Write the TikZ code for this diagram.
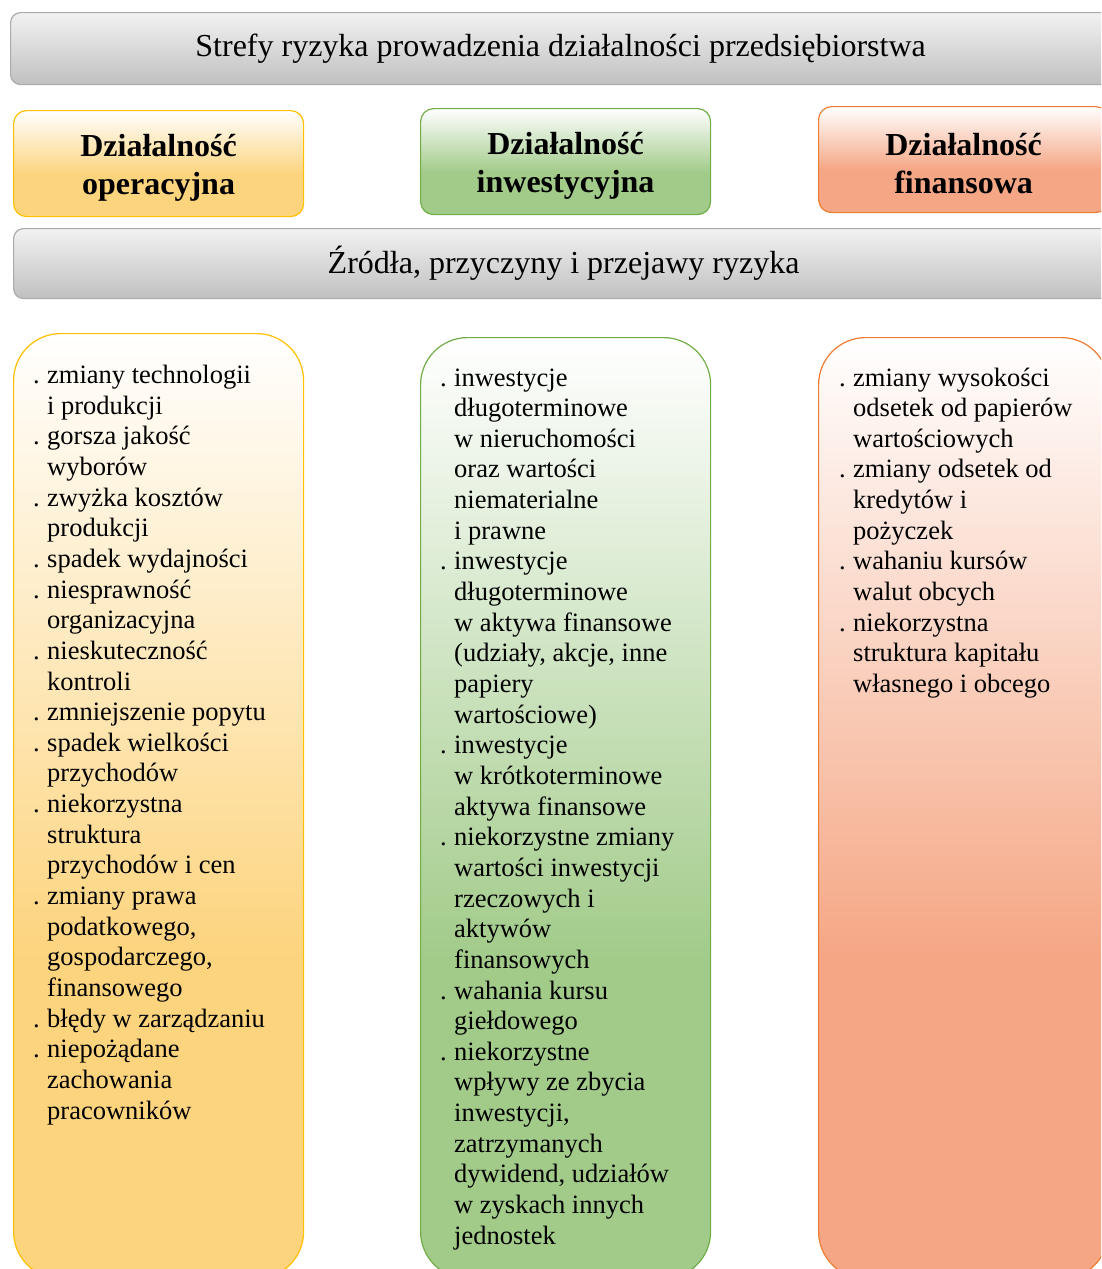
\documentclass[tikz,border=0pt]{standalone}
\usepackage{fontspec}
\setmainfont{Liberation Serif}
\definecolor{ylwline}{HTML}{FFC000}
\definecolor{ylwfill}{HTML}{FDD47E}
\definecolor{grnline}{HTML}{70AD47}
\definecolor{grnfill}{HTML}{A2CB8A}
\definecolor{orgline}{HTML}{ED7D31}
\definecolor{orgfill}{HTML}{F5A684}
\definecolor{gryline}{HTML}{ABABAB}
\definecolor{grytop}{HTML}{F2F2F2}
\definecolor{grybot}{HTML}{C0C0C0}
% vertical shadings, listed from bottom to top; a path spans 25bp..75bp
\pgfdeclareverticalshading{ylwcol}{100bp}{color(0bp)=(ylwfill); color(42bp)=(ylwfill); color(75bp)=(white); color(100bp)=(white)}
\pgfdeclareverticalshading{grncol}{100bp}{color(0bp)=(grnfill); color(42bp)=(grnfill); color(75bp)=(white); color(100bp)=(white)}
\pgfdeclareverticalshading{orgcol}{100bp}{color(0bp)=(orgfill); color(42bp)=(orgfill); color(75bp)=(white); color(100bp)=(white)}
\pgfdeclareverticalshading{ylwhead}{100bp}{color(0bp)=(ylwfill); color(45bp)=(ylwfill); color(75bp)=(white); color(100bp)=(white)}
\pgfdeclareverticalshading{grnhead}{100bp}{color(0bp)=(grnfill); color(45bp)=(grnfill); color(75bp)=(white); color(100bp)=(white)}
\pgfdeclareverticalshading{orghead}{100bp}{color(0bp)=(orgfill); color(45bp)=(orgfill); color(75bp)=(white); color(100bp)=(white)}
\newcommand\lbul{\makebox[14pt][l]{.}}
\newcommand\lcont{\hspace*{14pt}}
\newcommand\listtext[1]{\parbox[t]{280pt}{\fontsize{26.5}{30.65}\selectfont\raggedright #1}}
\begin{document}
\begin{tikzpicture}[x=1pt,y=-1pt,
  banner/.style={draw=gryline, line width=1.2pt, rounded corners=10pt,
    top color=grytop, bottom color=grybot, inner sep=0pt, anchor=north west,
    minimum width=1100pt, font=\fontsize{32}{38}\selectfont},
  headbox/.style={line width=1.2pt, rounded corners=13pt, inner sep=0pt,
    anchor=north west, minimum width=290pt, minimum height=106pt},
  headtxt/.style={inner sep=0pt, align=center, yshift=-4pt,
    font=\fontsize{32}{37.5}\selectfont\bfseries},
  listbox/.style={line width=1.2pt, rounded corners=47pt, inner sep=0pt,
    anchor=north west, minimum width=290pt, minimum height=945pt},
  listtxt/.style={anchor=base west, inner sep=0pt}
]
\useasboundingbox (0,0) rectangle (1101,1269);
\clip (0,0) rectangle (1101,1269);

% top banner
\node[banner, minimum height=72pt] (title) at (10,12)
  {Strefy ryzyka prowadzenia działalności przedsiębiorstwa};

% activity headers
\node[headbox, draw=ylwline, shading=ylwhead] (hop) at (13,110) {};
\node[headbox, draw=grnline, shading=grnhead] (hinw) at (420,108) {};
\node[headbox, draw=orgline, shading=orghead] (hfin) at (818,106) {};
\node[headtxt] (hopt) at (hop.center) {Działalność\\operacyjna};
\node[headtxt] (hinwt) at (hinw.center) {Działalność\\inwestycyjna};
\node[headtxt] (hfint) at (hfin.center) {Działalność\\finansowa};

% second banner
\node[banner, minimum height=70pt] (sources) at (13,228)
  {Źródła, przyczyny i przejawy ryzyka};

% list columns
\node[listbox, draw=ylwline, shading=ylwcol] (lop) at (13,333) {};
\node[listbox, draw=grnline, shading=grncol, minimum height=941pt] (linw) at (420,337) {};
\node[listbox, draw=orgline, shading=orgcol, minimum height=941pt] (lfin) at (818,337) {};

\node[listtxt] (top) at (33,383.5) {\listtext{%
\lbul zmiany technologii\\
\lcont i produkcji\\
\lbul gorsza jakość\\
\lcont wyborów\\
\lbul zwyżka kosztów\\
\lcont produkcji\\
\lbul spadek wydajności\\
\lbul niesprawność\\
\lcont organizacyjna\\
\lbul nieskuteczność\\
\lcont kontroli\\
\lbul zmniejszenie popytu\\
\lbul spadek wielkości\\
\lcont przychodów\\
\lbul niekorzystna\\
\lcont struktura\\
\lcont przychodów i cen\\
\lbul zmiany prawa\\
\lcont podatkowego,\\
\lcont gospodarczego,\\
\lcont finansowego\\
\lbul błędy w zarządzaniu\\
\lbul niepożądane\\
\lcont zachowania\\
\lcont pracowników}};

\node[listtxt] (tinw) at (440,386) {\listtext{%
\lbul inwestycje\\
\lcont długoterminowe\\
\lcont w nieruchomości\\
\lcont oraz wartości\\
\lcont niematerialne\\
\lcont i prawne\\
\lbul inwestycje\\
\lcont długoterminowe\\
\lcont w aktywa finansowe\\
\lcont (udziały, akcje, inne\\
\lcont papiery\\
\lcont wartościowe)\\
\lbul inwestycje\\
\lcont w krótkoterminowe\\
\lcont aktywa finansowe\\
\lbul niekorzystne zmiany\\
\lcont wartości inwestycji\\
\lcont rzeczowych i\\
\lcont aktywów\\
\lcont finansowych\\
\lbul wahania kursu\\
\lcont giełdowego\\
\lbul niekorzystne\\
\lcont wpływy ze zbycia\\
\lcont inwestycji,\\
\lcont zatrzymanych\\
\lcont dywidend, udziałów\\
\lcont w zyskach innych\\
\lcont jednostek}};

\node[listtxt] (tfin) at (839,386) {\listtext{%
\lbul zmiany wysokości\\
\lcont odsetek od papierów\\
\lcont wartościowych\\
\lbul zmiany odsetek od\\
\lcont kredytów i\\
\lcont pożyczek\\
\lbul wahaniu kursów\\
\lcont walut obcych\\
\lbul niekorzystna\\
\lcont struktura kapitału\\
\lcont własnego i obcego}};
\end{tikzpicture}
\end{document}
